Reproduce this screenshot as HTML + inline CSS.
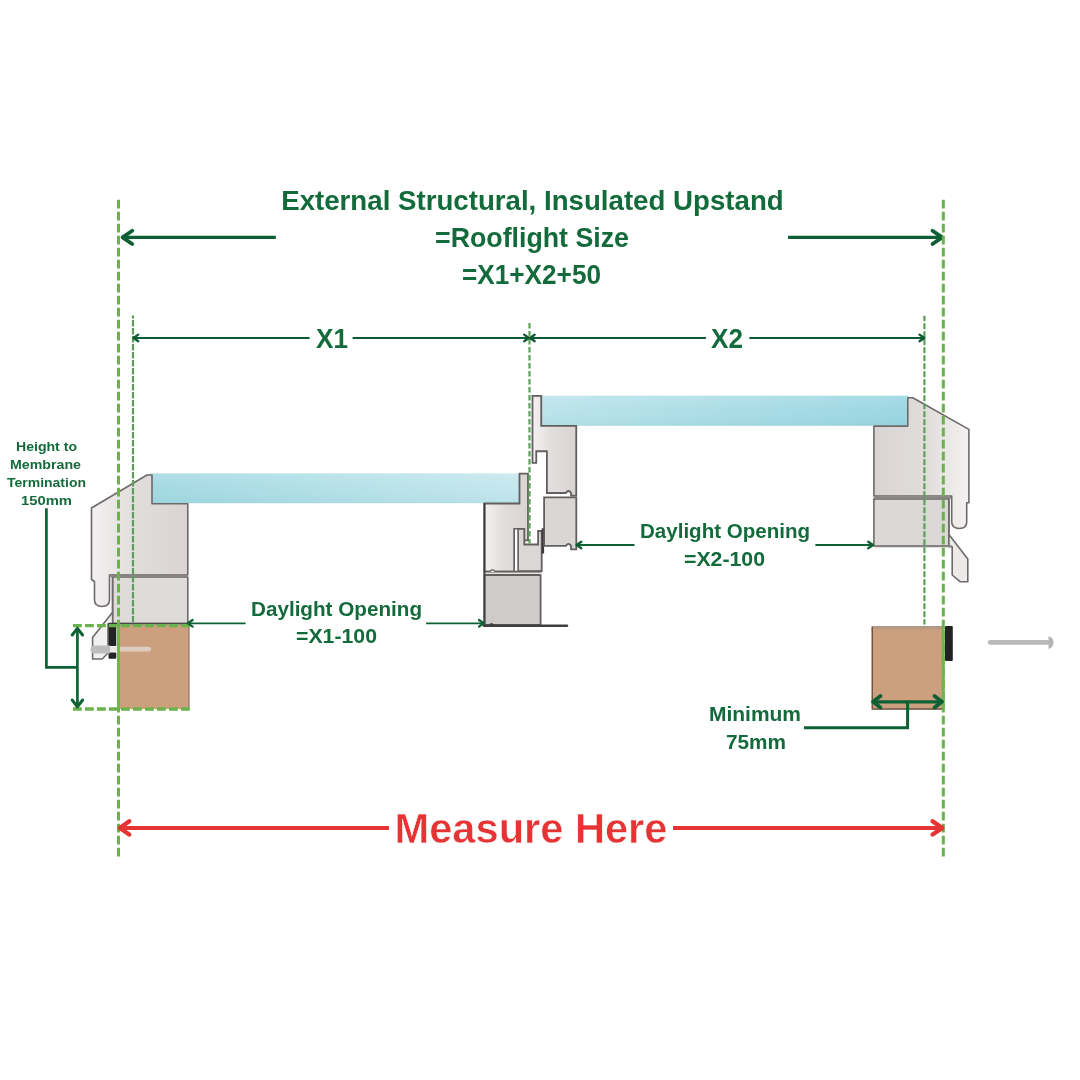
<!DOCTYPE html>
<html><head><meta charset="utf-8">
<style>
html,body{margin:0;padding:0;background:#fff;}
body{width:1080px;height:1080px;overflow:hidden;}
svg{display:block;will-change:transform;}
text{font-family:"Liberation Sans",sans-serif;font-weight:bold;}
</style></head>
<body>
<svg width="1080" height="1080" viewBox="0 0 1080 1080">
<defs>
  <linearGradient id="glassL" x1="0" y1="0" x2="1" y2="0">
    <stop offset="0" stop-color="#9fd7e1"/>
    <stop offset="1" stop-color="#c2e6ed"/>
  </linearGradient>
  <linearGradient id="glassR" x1="0" y1="0" x2="1" y2="0">
    <stop offset="0" stop-color="#b8e2ea"/>
    <stop offset="1" stop-color="#96d4e0"/>
  </linearGradient>
  <linearGradient id="frame" x1="0" y1="0" x2="1" y2="0">
    <stop offset="0" stop-color="#f3f1f1"/>
    <stop offset="0.45" stop-color="#e2dddd"/>
    <stop offset="1" stop-color="#d9d3d3"/>
  </linearGradient>
  <linearGradient id="frameR" x1="0" y1="0" x2="1" y2="0">
    <stop offset="0" stop-color="#d9d3d3"/>
    <stop offset="0.55" stop-color="#e2dddd"/>
    <stop offset="1" stop-color="#f3f1f1"/>
  </linearGradient>
  <linearGradient id="glassV" x1="0" y1="0" x2="0" y2="1">
    <stop offset="0" stop-color="#fff" stop-opacity="0.18"/>
    <stop offset="0.5" stop-color="#fff" stop-opacity="0.05"/>
    <stop offset="1" stop-color="#7fb8c0" stop-opacity="0.12"/>
  </linearGradient>
  <linearGradient id="timberTop" x1="0" y1="0" x2="0" y2="1">
    <stop offset="0" stop-color="#a89488"/>
    <stop offset="1" stop-color="#cca07f"/>
  </linearGradient>
</defs>
<rect width="1080" height="1080" fill="#fff"/>

<!-- ===== Title ===== -->
<g fill="#136b3b" font-size="27.6">
  <text x="281.2" y="209.8" textLength="502.5" lengthAdjust="spacingAndGlyphs">External Structural, Insulated Upstand</text>
  <text x="435.0" y="246.9" textLength="194.0" lengthAdjust="spacingAndGlyphs">=Rooflight Size</text>
  <text x="462.0" y="283.6" textLength="139.0" lengthAdjust="spacingAndGlyphs">=X1+X2+50</text>
</g>

<!-- top arrows -->
<g stroke="#0e5f36" fill="none" stroke-linejoin="round">
  <line x1="275.8" y1="237.4" x2="122" y2="237.4" stroke-width="3.2"/>
  <polyline points="132.2,230.8 122.6,237.4 132.2,244" stroke-width="3.8" stroke-linecap="round"/>
  <line x1="788.1" y1="237.4" x2="942" y2="237.4" stroke-width="3.2"/>
  <polyline points="932.5,230.8 942.2,237.4 932.5,244" stroke-width="3.8" stroke-linecap="round"/>
</g>

<!-- ===== Glass ===== -->
<rect x="150" y="473.4" width="372" height="29.8" fill="url(#glassL)"/>
<rect x="539" y="395.7" width="369.5" height="30.1" fill="url(#glassR)"/>
<rect x="539" y="395.7" width="369.5" height="30.1" fill="url(#glassV)"/>
<rect x="150" y="473.4" width="372" height="29.8" fill="url(#glassV)"/>

<!-- ===== Left frame ===== -->
<g stroke="#6e6a6a" stroke-width="1.6" stroke-linejoin="round">
  <path d="M91.5,508 L147,475 L152,475 L152,503.7 L187.8,503.7 L187.8,575 L109.5,575 L109.5,600 Q109.5,606.5 102,606.5 Q94.5,606.5 94.5,600 L94.5,581.5 L91.5,579.5 Z" fill="url(#frame)"/>
  <path d="M112.6,577 L187.8,577 L187.8,623.5 L112.6,623.5 Z" fill="#dfdbdb"/>
  <path d="M112.6,577 L112.6,612.2 L92.6,637.4 L92.6,659 L102.2,659 L108,653 L108,624 L112.6,624 Z" fill="#f2f1f1"/>
</g>
<line x1="109.5" y1="575.8" x2="187.8" y2="575.8" stroke="#878282" stroke-width="3"/>
<line x1="108.5" y1="623.6" x2="188.5" y2="623.6" stroke="#4a4a4a" stroke-width="1.8"/>

<!-- left timber -->
<rect x="119" y="625" width="70" height="84" fill="#cca07f"/>
<line x1="189" y1="625" x2="189" y2="709" stroke="#8e7566" stroke-width="1.2"/>
<!-- gasket -->
<rect x="108.5" y="623.5" width="7.8" height="22.5" fill="#232323"/>
<rect x="108.5" y="652.4" width="7.8" height="6.3" rx="1" fill="#232323"/>
<!-- screw -->
<rect x="108" y="646.8" width="43" height="4.6" rx="2.3" fill="#e2dcd6" fill-opacity="0.75"/>
<path d="M90.5,649.3 Q90.5,645.5 95,645.5 L110,645.5 L110,653.5 L95,653.5 Q90.5,653.5 90.5,649.3 Z" fill="#bdbdbd"/>

<!-- ===== Middle frame (left pane right) ===== -->
<g stroke="#635f5f" stroke-width="1.8" stroke-linejoin="miter">
  <path d="M484.5,503.5 L519.5,503.5 L519.5,473.7 L528,473.7 L528,540.3 L523,540.3 L523,528.8 L514.2,528.8 L514.2,571.7 L484.5,571.7 Z" fill="url(#frame)"/>
  <path d="M518,528.8 L524.3,528.8 L524.3,544.5 L538.1,544.5 L538.1,531 L541.7,531 L541.7,571.2 L518,571.2 Z" fill="#dcd7d7"/>
  <path d="M484.5,575 L540.6,575 L540.6,625 L484.5,625 Z" fill="#cecccb"/>
</g>
<rect x="515.1" y="529.6" width="2.1" height="42" fill="#fff"/>
<rect x="484.5" y="571.7" width="56.5" height="3.3" fill="#e6e3e3"/>
<line x1="484.5" y1="571.7" x2="541.7" y2="571.7" stroke="#635f5f" stroke-width="1.8"/>
<line x1="484.5" y1="575" x2="540.6" y2="575" stroke="#635f5f" stroke-width="1.8"/>
<path d="M489.5,572 Q492.5,567.5 495.5,572" stroke="#6f6b6b" stroke-width="1.6" fill="#fff"/>
<line x1="484" y1="625.8" x2="567" y2="625.8" stroke="#3f3f3f" stroke-width="2.6" stroke-linecap="round"/>
<path d="M489,626 Q491.5,621.5 494,626" stroke="#3f3f3f" stroke-width="1.6" fill="none"/>
<line x1="484.4" y1="503" x2="484.4" y2="627" stroke="#404040" stroke-width="2"/>
<line x1="542.9" y1="528.2" x2="542.9" y2="553.5" stroke="#3a3a3a" stroke-width="2.4"/>

<!-- ===== Right pane left frame ===== -->
<g stroke="#635f5f" stroke-width="1.8">
  <path d="M532.5,395.8 L541.25,395.8 L541.25,425.8 L576.25,425.8 L576.25,495.6 L571.1,495.6 L571.1,493 Q568.5,489 565.9,493 L546.9,493 L546.9,451.25 L536.25,451.25 L536.25,462.9 L532.5,462.9 Z" fill="url(#frame)"/>
  <path d="M544.1,497.4 L576.3,497.4 L576.3,549.3 L571.1,549.3 L571.1,545.9 Q568.5,541.8 565.9,545.9 L544.1,545.9 Z" fill="#dbd6d6"/>
</g>

<!-- ===== Right pane right frame ===== -->
<g stroke="#6e6a6a" stroke-width="1.6" stroke-linejoin="round">
  <path d="M873.9,426.1 L907.8,426.1 L907.8,397.8 L912.8,397.8 L968.9,429.4 L968.9,502.8 L966.7,502.8 L966.7,522 Q966.7,528.5 959.5,528.5 Q951.7,528.5 951.7,522 L951.7,496 L873.9,496 Z" fill="url(#frameR)"/>
  <path d="M873.9,498.9 L948.9,498.9 L948.9,546.1 L873.9,546.1 Z" fill="#ddd8d8"/>
  <path d="M948.9,498.9 L948.9,534.4 L967.8,558.9 L967.8,581.7 L960,581.7 L952.2,575 L952.2,546.7 L948.9,546.7 Z" fill="#ece9e9"/>
</g>
<line x1="873.9" y1="497.4" x2="951" y2="497.4" stroke="#8d8888" stroke-width="2.6"/>
<line x1="873.9" y1="546.3" x2="952" y2="546.3" stroke="#878282" stroke-width="2"/>

<!-- right timber -->
<rect x="871.7" y="626.1" width="70.5" height="83.3" fill="#cca07f"/>
<rect x="871.7" y="626.1" width="70.5" height="4.5" fill="url(#timberTop)"/>
<path d="M872.3,627 L872.3,709 L942,709" stroke="#6f5445" stroke-width="1.4" fill="none"/>
<rect x="945" y="626.1" width="7.8" height="35" rx="1" fill="#232323"/>

<!-- nail -->
<rect x="987.8" y="640" width="62" height="4.8" rx="2.4" fill="#bababa"/>
<path d="M1048.5,636 Q1053.5,638 1053.5,642.4 Q1053.5,647 1048.5,649 Z" fill="#b3b3b3"/>

<!-- ===== Dashed guide lines ===== -->
<g stroke="#69b24c" fill="none">
  <line x1="118.5" y1="199.7" x2="118.5" y2="857" stroke-width="3" stroke-dasharray="8.8 3.2"/>
  <line x1="943.3" y1="199.7" x2="943.3" y2="857" stroke-width="3" stroke-dasharray="8.8 3.2"/>
  <line x1="73" y1="625.6" x2="190" y2="625.6" stroke-width="3.3" stroke-dasharray="8.8 3.2"/>
  <line x1="73" y1="709" x2="190" y2="709" stroke-width="3.3" stroke-dasharray="8.8 3.2"/>
</g>
<g stroke="#6cb84e" stroke-width="3">
  <line x1="118.5" y1="626" x2="118.5" y2="708"/>
  <line x1="943.3" y1="627" x2="943.3" y2="708"/>
</g>
<g stroke="#5d9f58" fill="none" stroke-width="2.2">
  <line x1="133" y1="315.6" x2="133" y2="622" stroke-dasharray="6.4 1.6" stroke-dashoffset="3.6"/>
  <line x1="529.5" y1="322.8" x2="529.5" y2="543.5" stroke-dasharray="5.6 2.4" stroke-dashoffset="7.9"/>
  <line x1="924.4" y1="315.8" x2="924.4" y2="624.4" stroke-dasharray="6 2" stroke-dashoffset="0.5"/>
</g>

<!-- ===== X1 / X2 dims ===== -->
<g stroke="#0e5a34" stroke-width="2" fill="none" stroke-linejoin="round">
  <line x1="134" y1="338" x2="309.6" y2="338"/>
  <line x1="352.6" y1="338" x2="528.5" y2="338"/>
  <line x1="530.5" y1="338" x2="705.9" y2="338"/>
  <line x1="749.3" y1="338" x2="923.5" y2="338"/>
</g>
<g stroke="#0e5a34" stroke-width="2.3" fill="none" stroke-linecap="round" stroke-linejoin="round">
  <polyline points="138.3,334.6 133.4,338 138.3,341.2"/>
  <polyline points="524.2,334.6 528.8,338 524.2,341.2"/>
  <polyline points="534.7,334.6 530.2,338 534.7,341.2"/>
  <polyline points="919.5,334.6 924.4,338 919.5,341.2"/>
</g>
<g fill="#136b3b" font-size="27.6">
  <text x="316.0" y="348" textLength="32.0" lengthAdjust="spacingAndGlyphs">X1</text>
  <text x="711.0" y="348" textLength="32.0" lengthAdjust="spacingAndGlyphs">X2</text>
</g>

<!-- ===== Daylight openings ===== -->
<g stroke="#0e6035" stroke-width="1.8" fill="none" stroke-linejoin="round">
  <line x1="245.6" y1="623.3" x2="189" y2="623.3"/>
  <line x1="426.1" y1="623.3" x2="483" y2="623.3"/>
  <line x1="634.5" y1="545" x2="577.5" y2="545"/>
  <line x1="815.4" y1="545" x2="872" y2="545"/>
</g>
<g stroke="#0e6035" stroke-width="2.3" fill="none" stroke-linecap="round" stroke-linejoin="round">
  <polyline points="192.6,620 187.8,623.3 192.6,626.6"/>
  <polyline points="479,620 483.8,623.3 479,626.6"/>
  <polyline points="581.3,541.7 576.5,545 581.3,548.3"/>
  <polyline points="868.2,541.7 873,545 868.2,548.3"/>
</g>
<g fill="#136b3b" font-size="19.9">
  <text x="251.0" y="615.6" textLength="171.0" lengthAdjust="spacingAndGlyphs">Daylight Opening</text>
  <text x="296.0" y="643.3" textLength="81.0" lengthAdjust="spacingAndGlyphs">=X1-100</text>
  <text x="640.0" y="537.6" textLength="170.0" lengthAdjust="spacingAndGlyphs">Daylight Opening</text>
  <text x="684.0" y="565.7" textLength="81.0" lengthAdjust="spacingAndGlyphs">=X2-100</text>
</g>

<!-- ===== Height to membrane ===== -->
<g stroke="#0e6035" stroke-width="2.7" fill="none" stroke-linejoin="miter">
  <polyline points="46.4,508.3 46.4,667.4 77.4,667.4"/>
  <line x1="77.4" y1="629.5" x2="77.4" y2="706"/>
</g>
<g stroke="#0e6035" stroke-width="3" fill="none" stroke-linecap="round" stroke-linejoin="round">
  <polyline points="72.2,635 77.4,628.3 82.6,635"/>
  <polyline points="72.2,700 77.4,706.8 82.6,700"/>
</g>
<g fill="#136b3b" font-size="13">
  <text x="16.0" y="450.6" textLength="61.0" lengthAdjust="spacingAndGlyphs">Height to</text>
  <text x="10.0" y="468.7" textLength="71.0" lengthAdjust="spacingAndGlyphs">Membrane</text>
  <text x="7.0" y="486.7" textLength="79.0" lengthAdjust="spacingAndGlyphs">Termination</text>
  <text x="21.0" y="504.5" textLength="51.0" lengthAdjust="spacingAndGlyphs">150mm</text>
</g>

<!-- ===== Minimum 75mm ===== -->
<line x1="874" y1="701.8" x2="941" y2="701.8" stroke="#0e6035" stroke-width="3.2"/>
<g stroke="#0e6035" stroke-width="3.8" fill="none" stroke-linecap="round" stroke-linejoin="round">
  <polyline points="880.5,696 873,701.8 880.5,707.5"/>
  <polyline points="934.5,696 942,701.8 934.5,707.5"/>
</g>
<polyline points="907.6,701.7 907.6,727.8 803.9,727.8" stroke="#0e6035" stroke-width="3" fill="none"/>
<g fill="#136b3b" font-size="19.9">
  <text x="709.0" y="721" textLength="92.0" lengthAdjust="spacingAndGlyphs">Minimum</text>
  <text x="726.0" y="748.7" textLength="60.0" lengthAdjust="spacingAndGlyphs">75mm</text>
</g>

<!-- ===== Measure Here ===== -->
<g stroke="#e63434" fill="none" stroke-linejoin="round">
  <line x1="122" y1="828" x2="388.9" y2="828" stroke-width="4"/>
  <line x1="673" y1="828" x2="940" y2="828" stroke-width="4"/>
</g>
<g stroke="#e63434" stroke-width="4.4" fill="none" stroke-linecap="round" stroke-linejoin="round">
  <polyline points="129.3,821.3 119.8,828 129.3,834.5"/>
  <polyline points="932.6,821.3 942.4,828 932.6,834.5"/>
</g>
<text x="394.6" y="843" font-size="41.6" fill="#e63434" stroke="#fff" stroke-width="0.5" textLength="272.8" lengthAdjust="spacingAndGlyphs">Measure Here</text>

</svg>
</body></html>
